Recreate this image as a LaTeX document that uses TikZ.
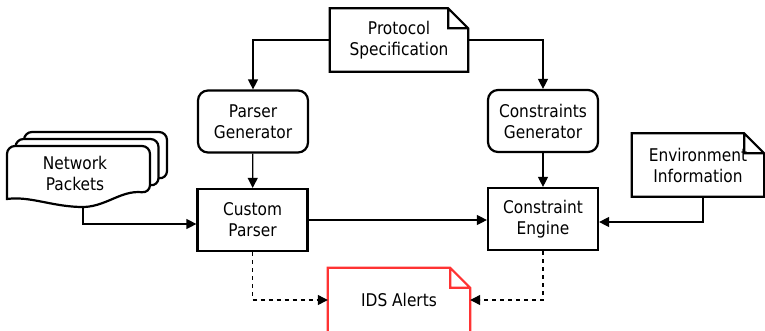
\documentclass[tikz,border=0pt]{standalone}
\usepackage{fontspec}
\setmainfont{DejaVu Sans}[FakeStretch=0.88]
\usetikzlibrary{arrows.meta}
\definecolor{alertred}{RGB}{255,51,51}
\tikzset{
  box/.style={draw, line width=2.2pt, minimum width=110pt, minimum height=62pt, align=center, inner sep=0pt},
  genbox/.style={box, rounded corners=10pt},
  doc/.style={minimum width=#1, minimum height=63pt, align=center, inner sep=0pt},
  docline/.style={line width=2.2pt, line join=miter},
  pktpage/.style={line width=2.2pt, fill=white},
  link/.style={->, line width=1.2pt},
  alertlink/.style={link, dash pattern=on 4pt off 4pt}
}
\begin{document}
\begin{tikzpicture}[x=1pt, y=-1pt, font=\fontsize{17.5}{21}\selectfont, >={Triangle[length=10pt,width=10pt]}]
\clip (0,0) rectangle (765,330);
%Nodes
\node[doc=138pt] (proto) at (399,40) {Protocol\\Specification};
\node[genbox] (pgen) at (253,121.5) {Parser\\Generator};
\node[genbox] (cgen) at (543,121) {Constraints\\Generator};
\node[box] (cparser) at (252.5,220) {Custom\\Parser};
\node[box] (cengine) at (543,219) {Constraint\\Engine};
\node[doc=132pt] (envinfo) at (698,165) {Environment\\Information};
\node[doc=142pt, minimum height=64pt] (alerts) at (399,300) {IDS Alerts};
%Network packets
\foreach \d in {2,1,0}
\draw[pktpage, shift={(8.5*\d,-7*\d)}] (7,199) [rounded corners=8pt] -- (7,146) -- (150,146) -- (150,193) [sharp corners]
  .. controls (120,190) and (105,208) .. (80,207) .. controls (50,206) and (30,196) .. (7,199) -- cycle;
\node[align=center] (packets) at (75,173) {Network\\Packets};
\coordinate (pktout) at (83,206);
%Documents
\foreach \n/\c in {proto/black, envinfo/black, alerts/alertred}
\draw[docline, draw=\c] (\n.north west) -- ([xshift=-20pt]\n.north east) -- ([yshift=-20pt]\n.north east) -- (\n.south east) -- (\n.south west) -- cycle
  ([xshift=-20pt]\n.north east) |- ([yshift=-20pt]\n.north east);
%Connectors
\draw[link] (proto.west) -| (pgen.north);
\draw[link] (proto.east) -| (cgen.north);
\draw[link] (pgen) -- (cparser);
\draw[link] (cgen) -- (cengine);
\draw[link] (pktout) |- ([yshift=-4pt]cparser.west);
\draw[link] (cparser.east) -- (cparser.east -| cengine.west);
\draw[link] ([xshift=5pt]envinfo.south) |- ([yshift=-3pt]cengine.east);
\draw[alertlink] (cparser.south) |- (alerts.west);
\draw[alertlink] (cengine.south) |- (alerts.east);
\end{tikzpicture}
\end{document}
